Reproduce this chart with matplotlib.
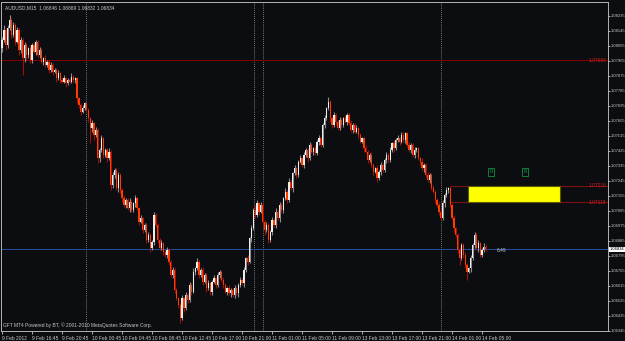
import numpy as np
import matplotlib.pyplot as plt
from matplotlib.patches import Rectangle

plt.rcParams['font.family'] = ['Liberation Sans Narrow', 'Liberation Sans', 'DejaVu Sans']

# AUDUSD M15 closes, one line = 16 bars (4 hours)
closes = [
    1.0809, 1.0815, 1.0806, 1.0816, 1.0821, 1.0812, 1.0818, 1.0808, 1.0815, 1.0803, 1.0809, 1.0798, 1.0806, 1.0800, 1.0804, 1.0797,
    1.0806, 1.0802, 1.0808, 1.0800, 1.0803, 1.0796, 1.0798, 1.0794, 1.0796, 1.0791, 1.0794, 1.0790, 1.0791, 1.0786, 1.0789, 1.0785,
    1.0784, 1.0786, 1.0783, 1.0785, 1.0784, 1.0787, 1.0785, 1.0786, 1.0774, 1.0770, 1.0766, 1.0768, 1.0771, 1.0767, 1.0762, 1.0756,
    1.0759, 1.0752, 1.0755, 1.0738, 1.0743, 1.0750, 1.0740, 1.0743, 1.0738, 1.0742, 1.0722, 1.0728, 1.0731, 1.0720, 1.0728, 1.0719,
    1.0714, 1.0710, 1.0713, 1.0708, 1.0712, 1.0707, 1.0711, 1.0714, 1.0708, 1.0700, 1.0702, 1.0695, 1.0698, 1.0689, 1.0692, 1.0684,
    1.0688, 1.0704, 1.0698, 1.0689, 1.0684, 1.0687, 1.0682, 1.0680, 1.0683, 1.0676, 1.0668, 1.0671, 1.0659, 1.0654, 1.0650, 1.0642,
    1.0654, 1.0648, 1.0656, 1.0653, 1.0662, 1.0658, 1.0670, 1.0672, 1.0676, 1.0668, 1.0671, 1.0664, 1.0668, 1.0660, 1.0663, 1.0658,
    1.0664, 1.0666, 1.0662, 1.0668, 1.0670, 1.0665, 1.0662, 1.0658, 1.0660, 1.0657, 1.0659, 1.0656, 1.0660, 1.0657, 1.0662, 1.0665,
    1.0663, 1.0671, 1.0678, 1.0676, 1.0690, 1.0696, 1.0707, 1.0704, 1.0711, 1.0706, 1.0710, 1.0700, 1.0695, 1.0698, 1.0689, 1.0694,
    1.0701, 1.0698, 1.0706, 1.0702, 1.0710, 1.0707, 1.0714, 1.0718, 1.0713, 1.0724, 1.0720, 1.0729, 1.0732, 1.0728, 1.0736, 1.0738,
    1.0734, 1.0740, 1.0743, 1.0738, 1.0746, 1.0742, 1.0744, 1.0741, 1.0748, 1.0750, 1.0746, 1.0758, 1.0762, 1.0768, 1.0772, 1.0762,
    1.0758, 1.0764, 1.0760, 1.0756, 1.0761, 1.0758, 1.0762, 1.0760, 1.0764, 1.0759, 1.0755, 1.0758, 1.0754, 1.0756, 1.0752, 1.0748,
    1.0750, 1.0744, 1.0742, 1.0737, 1.0740, 1.0734, 1.0730, 1.0732, 1.0726, 1.0730, 1.0734, 1.0731, 1.0737, 1.0740, 1.0737, 1.0743,
    1.0747, 1.0744, 1.0749, 1.0750, 1.0748, 1.0752, 1.0749, 1.0753, 1.0746, 1.0743, 1.0746, 1.0740, 1.0743, 1.0744, 1.0738, 1.0736,
    1.0732, 1.0734, 1.0728, 1.0725, 1.0728, 1.0720, 1.0718, 1.0713, 1.0710, 1.0706, 1.0702, 1.0711, 1.0716, 1.0719, 1.0720, 1.0710,
    1.0702, 1.0696, 1.0692, 1.0683, 1.0678, 1.0686, 1.0680, 1.0674, 1.0670, 1.0672, 1.0678, 1.0686, 1.0692, 1.0684, 1.0687, 1.0680,
    1.0683, 1.0685, 1.06834,
]
first_open = 1.0804

# shadows above / below the body, in pips
wick_up = [
    2, 3, 1, 2, 3, 1, 2, 1, 2, 1, 2, 1, 2, 1, 1, 2,
    1, 2, 1, 1, 2, 1, 1, 2, 1, 1, 2, 1, 1, 1, 2, 1,
    1, 2, 1, 1, 1, 2, 1, 1, 1, 1, 1, 2, 1, 1, 1, 1,
    2, 1, 2, 1, 1, 2, 1, 1, 1, 2, 1, 2, 1, 1, 2, 1,
    1, 2, 1, 1, 2, 1, 1, 2, 1, 1, 2, 1, 1, 1, 2, 1,
    1, 2, 1, 1, 1, 2, 1, 1, 2, 1, 1, 2, 1, 1, 1, 1,
    2, 1, 2, 1, 2, 1, 2, 1, 2, 1, 1, 2, 1, 1, 2, 1,
    1, 2, 1, 2, 1, 1, 2, 1, 1, 2, 1, 1, 2, 1, 1, 2,
    1, 2, 1, 2, 1, 2, 1, 3, 2, 1, 2, 1, 1, 2, 1, 1,
    2, 1, 2, 1, 2, 1, 1, 2, 1, 2, 1, 1, 2, 1, 1, 2,
    1, 2, 1, 1, 2, 1, 1, 2, 1, 2, 1, 1, 2, 1, 3, 1,
    1, 2, 1, 1, 2, 1, 1, 2, 1, 1, 2, 1, 1, 2, 1, 1,
    1, 1, 2, 1, 1, 2, 1, 1, 2, 1, 2, 1, 1, 2, 1, 2,
    1, 2, 1, 2, 1, 2, 2, 1, 1, 2, 1, 1, 2, 1, 1, 1,
    2, 1, 1, 2, 1, 1, 2, 1, 1, 2, 1, 2, 1, 2, 1, 1,
    1, 2, 1, 1, 2, 1, 1, 2, 1, 1, 2, 1, 2, 1, 2, 1,
    1, 2, 1,
]
wick_dn = [
    2, 1, 3, 2, 1, 2, 1, 2, 1, 3, 2, 10, 2, 3, 2, 2,
    2, 1, 2, 1, 2, 1, 2, 1, 1, 2, 1, 2, 1, 2, 1, 2,
    1, 1, 2, 1, 1, 1, 1, 2, 3, 2, 2, 1, 1, 2, 2, 9,
    2, 3, 1, 3, 2, 1, 2, 1, 2, 1, 3, 2, 2, 1, 2, 2,
    2, 1, 2, 1, 2, 1, 1, 2, 1, 2, 1, 2, 1, 2, 1, 2,
    1, 2, 1, 2, 1, 1, 2, 1, 2, 2, 1, 2, 2, 1, 2, 3,
    1, 2, 1, 2, 1, 2, 1, 2, 1, 2, 1, 2, 1, 2, 1, 2,
    2, 1, 2, 1, 2, 1, 2, 1, 2, 1, 2, 1, 2, 1, 2, 1,
    1, 2, 1, 2, 1, 2, 1, 2, 1, 2, 1, 2, 3, 1, 2, 1,
    2, 1, 2, 1, 2, 1, 2, 1, 2, 1, 1, 2, 1, 2, 1, 1,
    1, 2, 1, 2, 1, 1, 2, 1, 1, 2, 1, 1, 2, 1, 1, 2,
    2, 1, 2, 1, 1, 2, 1, 1, 2, 1, 1, 2, 1, 1, 2, 1,
    1, 2, 1, 2, 1, 1, 2, 1, 2, 1, 2, 1, 1, 2, 1, 1,
    1, 2, 1, 1, 2, 1, 1, 2, 1, 1, 2, 1, 2, 1, 1, 2,
    1, 2, 1, 1, 2, 1, 1, 2, 1, 2, 1, 1, 2, 1, 2, 1,
    1, 2, 1, 2, 4, 1, 2, 2, 5, 1, 2, 1, 2, 1, 2, 1,
    1, 1, 1,
]

x_labels = ["9 Feb 2012", "9 Feb 16:45", "9 Feb 20:45", "10 Feb 00:45", "10 Feb 04:45",
            "10 Feb 08:45", "10 Feb 12:45", "10 Feb 17:00", "10 Feb 21:00", "11 Feb 01:00",
            "11 Feb 05:00", "11 Feb 09:00", "13 Feb 13:00", "13 Feb 17:00", "13 Feb 21:00",
            "14 Feb 01:00", "14 Feb 05:00"]
y_ticks = [1.08235, 1.08145, 1.08055, 1.07965, 1.07875, 1.07785, 1.07695, 1.07605,
           1.07515, 1.07425, 1.07335, 1.07245, 1.07155, 1.07065, 1.06975, 1.06885,
           1.06795, 1.06705, 1.06615, 1.06525, 1.06435, 1.06345]

separators = [44.8, 134.4, 139.2, 234.1]   # dotted vertical lines (bar index)
level_main = 1.07968
level_hi = 1.07216
level_lo = 1.07118
last_price = 1.06834
zone_start, zone_end = 248.5, 297.6          # yellow box (bar index)
box_start = 239
marks = [(260.8, 1.0730, "0"), (279.0, 1.0730, "8")]
info = "AUDUSD,M15  1.06846 1.06869 1.06832 1.06834"
credit = "GFT MT4 Powered by BT, \u00a9 2001-2010 MetaQuotes Software Corp."

bg = '#0c0d10'
fg = '#c8c8c8'
fs = 3.5
fs_y = 3.0

opens = np.array([first_open] + closes[:-1])
closes = np.array(closes)
pip = 0.0001
highs = np.maximum(opens, closes) + np.array(wick_up) * pip
lows = np.minimum(opens, closes) - np.array(wick_dn) * pip
idx = np.arange(len(closes))
bull = closes >= opens

fig = plt.figure(figsize=(6.25, 3.41), dpi=100, facecolor=bg)
ax = fig.add_axes([0.0024, 0.0279, 0.9704, 0.9677])
ax.set_facecolor(bg)
xmax = 323.2
ax.set_xlim(-0.3, xmax)
ax.set_ylim(1.06342, 1.08322)

for b in separators:
    ax.axvline(b, color='#a0a0a0', ls=(0, (1, 1.5)), lw=0.6, zorder=1)

ax.axhline(level_main, color='#8b0000', lw=0.7, zorder=1)
ax.axhline(last_price, color='#2450a0', lw=0.7, zorder=1)

ax.add_patch(Rectangle((box_start, level_lo), xmax - box_start, level_hi - level_lo,
                       fill=False, edgecolor='#7a1010', lw=0.8, zorder=1))
ax.add_patch(Rectangle((zone_start, level_lo), zone_end - zone_start, level_hi - level_lo,
                       facecolor='#ffff00', edgecolor='#5a5a00', lw=0.8, zorder=2))

# candles
ax.vlines(idx[bull], lows[bull], highs[bull], color='#8c8c8c', lw=0.8, zorder=3)
ax.vlines(idx[~bull], lows[~bull], highs[~bull], color='#a01008', lw=0.8, zorder=3)
body_lo = np.minimum(opens, closes)
body_h = np.maximum(np.abs(closes - opens), 0.00003)
colors = np.where(bull, '#eeeeee', '#ff3c00')
ax.bar(idx, body_h, bottom=body_lo, width=0.65, color=colors, lw=0, zorder=4)

for bx, by, t in marks:
    ax.text(bx, by, t, color='#10a050', fontsize=fs + 0.5, ha='center', va='center',
            bbox=dict(boxstyle='square,pad=0.3', fc='none', ec='#10903c', lw=0.6))

ax.text(264, last_price - 0.00004, "6.49", color=fg, fontsize=fs, va='center')
for lv in [level_main, level_hi, level_lo]:
    ax.text(xmax - 1, lv, f"{lv:.5f}", color='#d02020', fontsize=fs, ha='right', va='center')

ytr = ax.get_yaxis_transform()
ax.text(1.003, last_price, f"{last_price:.5f}", transform=ytr, color='black', fontsize=fs_y,
        ha='left', va='center', bbox=dict(boxstyle='square,pad=0.1', fc='white', ec='none'))

ax.text(0.006, 0.988, info, transform=ax.transAxes, color=fg, fontsize=fs, ha='left', va='top')
ax.text(0.003, 0.01, credit, transform=ax.transAxes, color=fg, fontsize=fs, ha='left', va='bottom')

ax.yaxis.tick_right()
ax.set_yticks(y_ticks)
ax.set_yticklabels([f"{v:.5f}" for v in y_ticks])
ax.set_xticks(np.arange(len(x_labels)) * 16)
ax.set_xticklabels(x_labels, ha='left')
ax.tick_params(axis='x', colors=fg, labelsize=fs, length=2, width=0.6, pad=1.2, direction='out')
ax.tick_params(axis='y', colors=fg, labelsize=fs_y, length=1.5, width=0.6, pad=0.6, direction='out')
for s in ax.spines.values():
    s.set_color('#b4b4b4')
    s.set_linewidth(0.7)

fig.savefig('out.png', dpi=100, facecolor=bg)
